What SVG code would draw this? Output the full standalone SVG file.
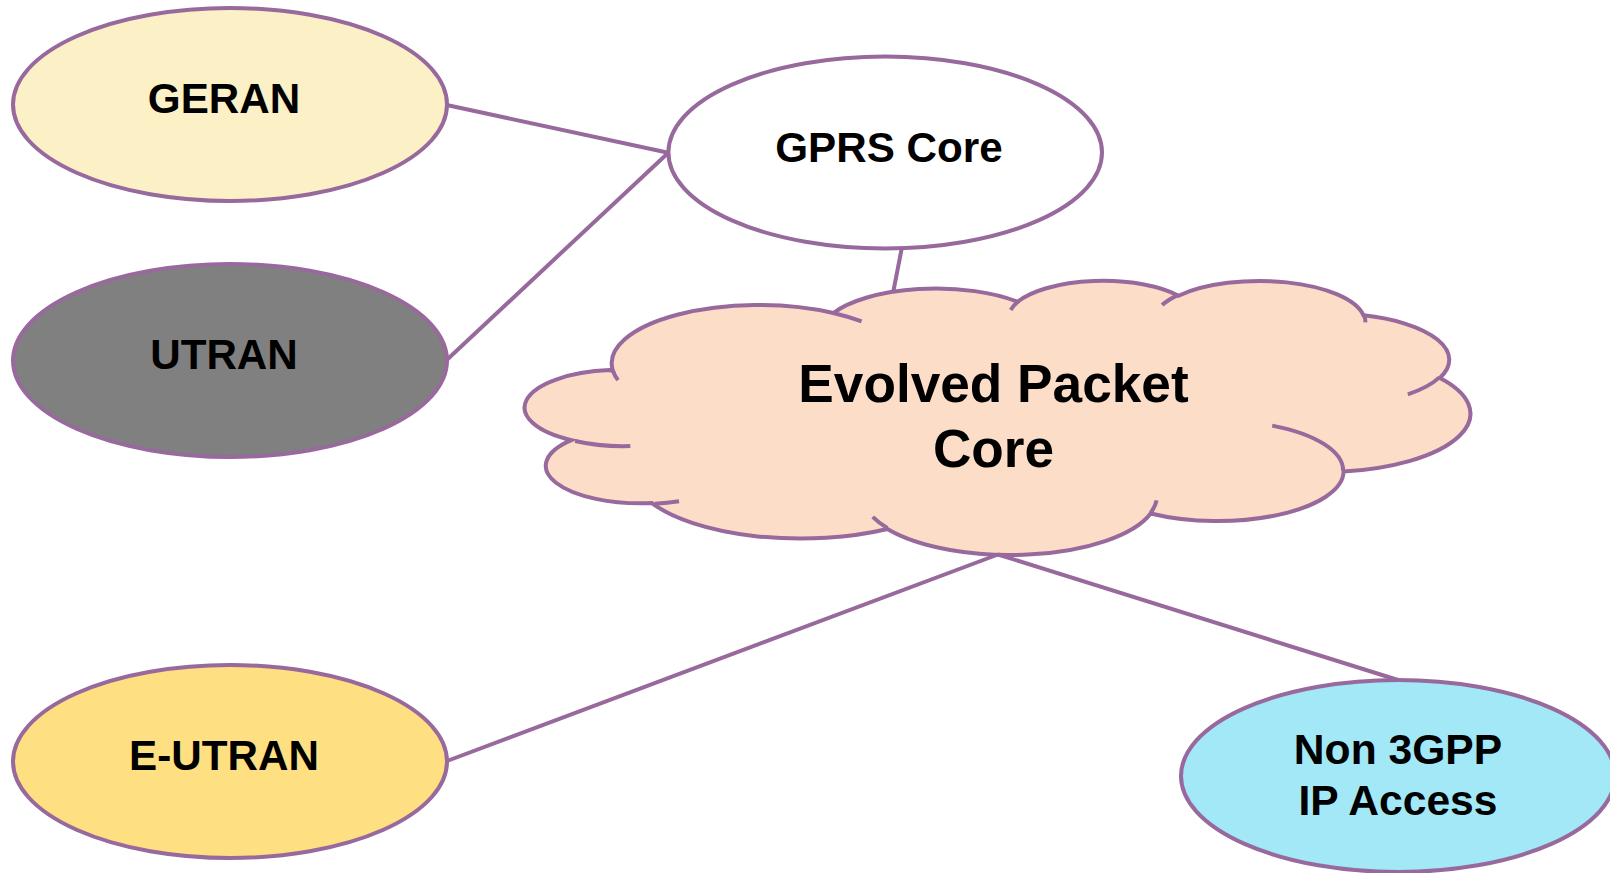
<svg xmlns="http://www.w3.org/2000/svg" width="1610" height="873" viewBox="0 0 1610 873">
  <style>
    .node { stroke: #98699C; stroke-width: 4; }
    .link { stroke: #98699C; stroke-width: 4; fill: none; }
    .label { font-family: "Liberation Sans", Arial, sans-serif; font-weight: bold; fill: #000; text-anchor: middle; }
  </style>
  <rect width="1610" height="873" fill="#ffffff"/>

  <g id="geran">
    <ellipse class="node" cx="230" cy="104.5" rx="217" ry="96.5" fill="#FBF0C6"/>
    <text class="label" x="224" y="113.3" font-size="42.2">GERAN</text>
  </g>

  <g id="utran">
    <ellipse class="node" cx="230" cy="360.5" rx="217" ry="96.5" fill="#808080"/>
    <text class="label" x="224" y="369.3" font-size="42.2">UTRAN</text>
  </g>

  <g id="e-utran">
    <ellipse class="node" cx="230" cy="761.5" rx="217" ry="96.5" fill="#FEDF82"/>
    <text class="label" x="224" y="770" font-size="42.2">E-UTRAN</text>
  </g>

  <g id="gprs-core">
    <ellipse class="node" cx="885.2" cy="152.5" rx="216.8" ry="96" fill="#FFFFFF"/>
    <text class="label" x="889" y="162" font-size="42.2">GPRS Core</text>
  </g>

  <g id="non-3gpp">
    <ellipse class="node" cx="1398" cy="776" rx="217" ry="96" fill="#A2E8F7"/>
    <text class="label" x="1398" y="764" font-size="42.6">Non 3GPP</text>
    <text class="label" x="1398" y="815" font-size="42.6">IP Access</text>
  </g>

  <!-- cloud outline built from eleven elliptical lobes, plus the inner lobe edges -->
  <g id="evolved-packet-core">
    <path class="node" fill="#FCDDC7" d="M613.04 371.14
      A147.25 58.29 0 0 1 833.39 313.00
      A116.29 46.09 0 0 1 1017.65 301.75
      A95.18 37.71 0 0 1 1178.52 295.72
      A105.91 41.83 0 0 1 1363.54 315.35
      A116.29 46.13 0 0 1 1439.87 378.04
      A147.73 58.48 0 0 1 1343.61 471.55
      A126.15 49.90 0 0 1 1150.66 513.47
      A147.23 58.45 0 0 1 887.37 529.04
      A168.34 66.87 0 0 1 651.91 503.07
      A95.07 37.54 0 0 1 571.40 440.15
      A94.75 37.71 0 0 1 609.57 370.11 Z"/>
    <path class="node" fill="none" d="
      M630.33 446.03 A94.75 37.71 0 0 1 575.09 440.97
      M679.07 501.35 A95.07 37.54 0 0 1 654.90 503.77
      M887.31 527.93 A147.23 58.45 0 0 1 872.72 516.87
      M1156.59 500.41 A147.23 58.45 0 0 1 1150.78 512.51
      M1272.21 425.59 A126.15 49.90 0 0 1 1343.11 470.85
      M1439.43 377.38 A116.29 46.13 0 0 1 1407.85 394.36
      M1363.68 314.41 A105.91 41.83 0 0 1 1365.35 322.43
      M1162.07 305.07 A105.91 41.83 0 0 1 1178.25 294.84
      M1010.80 309.94 A95.18 37.71 0 0 1 1018.63 301.12
      M833.28 312.93 A147.25 58.29 0 0 1 861.60 321.47
      M617.99 380.14 A147.25 58.29 0 0 1 613.04 371.14"/>
    <text class="label" x="993.5" y="402.3" font-size="53.2">Evolved Packet</text>
    <text class="label" x="993.5" y="467" font-size="53.2">Core</text>
  </g>

  <!-- connectors, drawn edge to edge over the node outlines -->
  <g id="connectors">
    <line class="link" x1="446.7" y1="105" x2="668.3" y2="152.7"/>
    <line class="link" x1="446.7" y1="360" x2="668.3" y2="152.7"/>
    <line class="link" x1="901.7" y1="248.5" x2="893.3" y2="291.7"/>
    <line class="link" x1="998" y1="554.5" x2="447" y2="761"/>
    <line class="link" x1="998" y1="554.5" x2="1398" y2="680"/>
  </g>
</svg>
